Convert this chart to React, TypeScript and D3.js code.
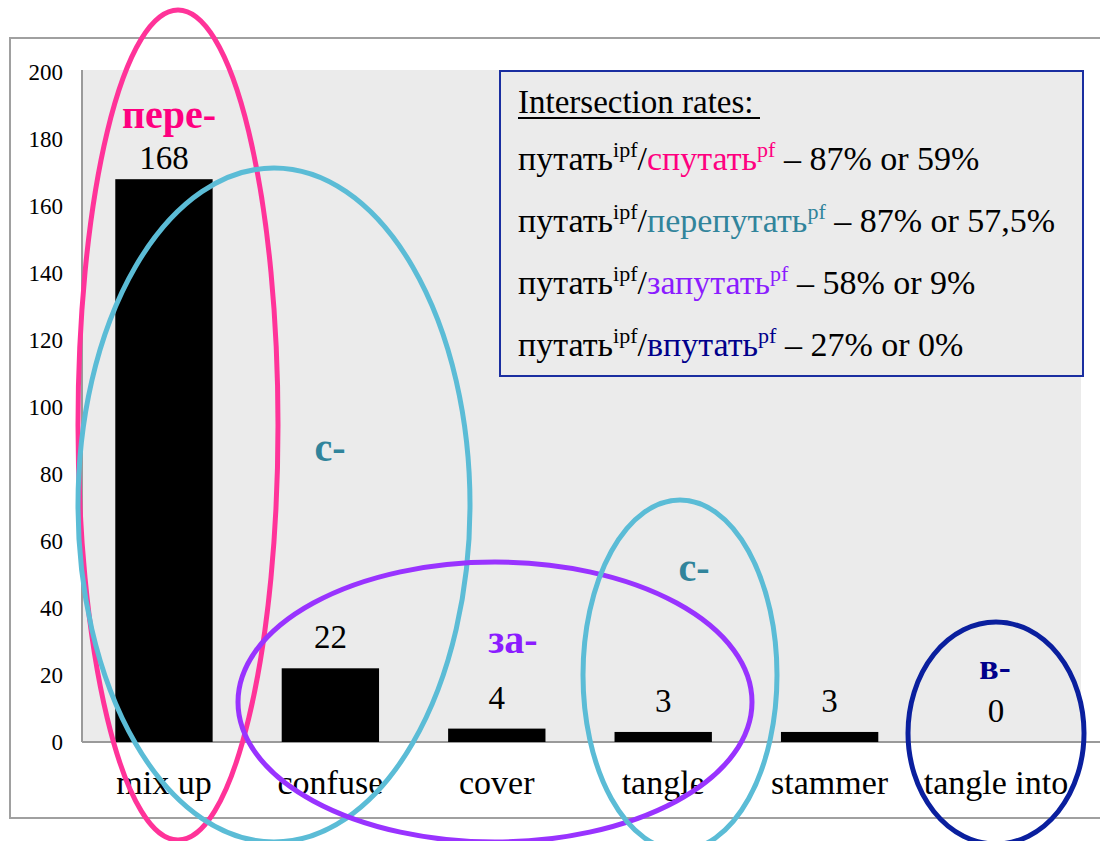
import React from "react";
import * as d3 from "d3";

const categories = ["mix up", "confuse", "cover", "tangle", "stammer", "tangle into"];
const values = [168, 22, 4, 3, 3, 0];
const yTicks = [0, 20, 40, 60, 80, 100, 120, 140, 160, 180, 200];

const legendTitle = "Intersection rates:";
const legendBaseWord = "путать";
const legendWords = ["спутать", "перепутать", "запутать", "впутать"];
const legendRates = [" – 87% or 59%", " – 87% or 57,5%", " – 58% or 9%", " – 27% or 0%"];
const legendColors = ["#ff0080", "#31849b", "#8b1cff", "#00008b"];

const prefixLabels = ["пере-", "с-", "за-", "с-", "в-"];
const prefixColors = ["#ff0080", "#31849b", "#8b1cff", "#31849b", "#00008b"];

const W = 1100;
const H = 841;
const plot = { left: 82, right: 1078, top: 72, bottom: 742 };
const serif = "Liberation Serif, Times New Roman, DejaVu Serif, serif";

// layout of the hand-drawn annotation ellipses and prefix labels
const ellipses = [
  { cx: 178, cy: 425, rx: 100, ry: 415, color: "#ff3399" },
  { cx: 274, cy: 505, rx: 196, ry: 337, color: "#5bbcd6" },
  { cx: 495, cy: 702, rx: 257, ry: 140, color: "#9933ff" },
  { cx: 680, cy: 675, rx: 97, ry: 175, color: "#5bbcd6" },
  { cx: 996, cy: 733, rx: 88, ry: 111, color: "#0a1f9e" },
];
const prefixPos = [
  { x: 169, y: 128, size: 40 },
  { x: 330, y: 461, size: 40 },
  { x: 513, y: 653, size: 40 },
  { x: 694, y: 581, size: 40 },
  { x: 995, y: 679, size: 36 },
];
const labelOffsets = [10, 20, 20, 20, 20, 20];

export default function App() {
  const x = d3.scaleBand<string>().domain(categories).range([plot.left, plot.right]).paddingInner(0.415).paddingOuter(0.2);
  const y = d3.scaleLinear().domain([0, 200]).range([plot.bottom, plot.top]);

  const legendX = 518;
  const legendRowY = [170, 232, 294, 356];
  const ts = { fontFamily: serif };

  return (
    <svg width={W} height={H} style={{ position: "absolute", left: 0, top: 0, background: "#fff", fontFamily: serif }}>
      {/* outer frame */}
      <rect x={10} y={38} width={1100} height={780} fill="#fff" stroke="#a0a0a0" strokeWidth={2} />
      {/* plot background */}
      <rect x={plot.left} y={plot.top - 2} width={1081 - plot.left} height={plot.bottom - plot.top + 2} fill="#ebebeb" />
      {/* axes */}
      <line x1={plot.left} x2={plot.left} y1={plot.top - 2} y2={plot.bottom} stroke="#9a9a9a" strokeWidth={2} />
      <line x1={plot.left} x2={W} y1={plot.bottom} y2={plot.bottom} stroke="#9a9a9a" strokeWidth={2} />
      {yTicks.map((t) => (
        <text key={t} x={63} y={y(t) + 8} textAnchor="end" fontSize={23} fill="#000" style={ts}>
          {t}
        </text>
      ))}
      {/* bars */}
      {categories.map((c, i) => (
        <g key={c}>
          <rect x={x(c)!} y={y(values[i])} width={x.bandwidth()} height={plot.bottom - y(values[i])} fill="#000" />
          <text x={x(c)! + x.bandwidth() / 2} y={y(values[i]) - labelOffsets[i]} textAnchor="middle" fontSize={33} fill="#000" style={ts}>
            {values[i]}
          </text>
          <text x={x(c)! + x.bandwidth() / 2} y={794} textAnchor="middle" fontSize={34} fill="#000" style={ts}>
            {c}
          </text>
        </g>
      ))}
      {/* legend box */}
      <rect x={500} y={71} width={583} height={305} fill="#ebebeb" stroke="#1a2ea0" strokeWidth={2} />
      <text x={legendX} y={113} fontSize={33} fill="#000" style={ts}>{legendTitle}</text>
      <line x1={legendX} x2={legendX + 242} y1={118} y2={118} stroke="#000" strokeWidth={2} />
      {legendWords.map((w, i) => (
        <text key={w} x={legendX} y={legendRowY[i]} fontSize={34} fill="#000" style={ts}>
          <tspan>{legendBaseWord}</tspan>
          <tspan fontSize={22} dy={-13}>ipf</tspan>
          <tspan dy={13}>/</tspan>
          <tspan fill={legendColors[i]}>{w}</tspan>
          <tspan fill={legendColors[i]} fontSize={22} dy={-13}>pf</tspan>
          <tspan dy={13}>{legendRates[i]}</tspan>
        </text>
      ))}
      {/* prefix labels */}
      {prefixLabels.map((p, i) => (
        <text key={i} x={prefixPos[i].x} y={prefixPos[i].y} textAnchor="middle" fontSize={prefixPos[i].size} fontWeight="bold" fill={prefixColors[i]} style={ts}>
          {p}
        </text>
      ))}
      {/* ellipses */}
      {ellipses.map((e, i) => (
        <ellipse key={i} cx={e.cx} cy={e.cy} rx={e.rx} ry={e.ry} fill="none" stroke={e.color} strokeWidth={5} />
      ))}
    </svg>
  );
}
